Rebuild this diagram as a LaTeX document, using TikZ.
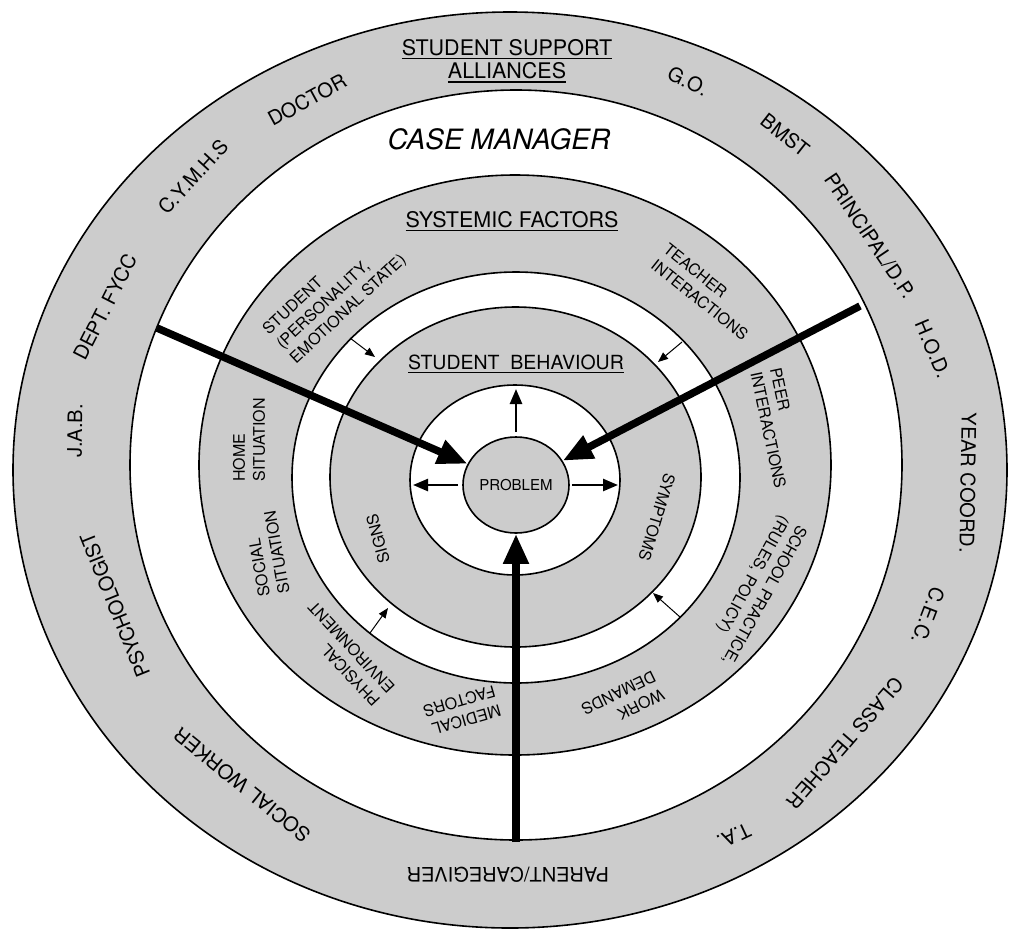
\documentclass[tikz,border=0pt]{standalone}
\usepackage{fontspec}
\setmainfont{TeX Gyre Heros}
\usetikzlibrary{arrows.meta,shapes.geometric}
\definecolor{bandgray}{RGB}{204,204,204}
\newcommand\undl[1]{\leavevmode\sbox0{#1}\rlap{\rule[-4pt]{\wd0}{1.4pt}}\usebox0}

\begin{document}
\begin{tikzpicture}[x=1pt,y=-1pt,
    ring/.style={draw,line width=1.6pt},
    outerlbl/.style={font=\fontsize{20}{24}\selectfont},
    factorlbl/.style={font=\fontsize{16}{20}\selectfont,align=left},
    innerlbl/.style={font=\fontsize{16}{20}\selectfont},
    headlbl/.style={font=\fontsize{21.5}{23.5}\selectfont,align=center},
    bigarrow/.style={line width=7.5pt,-{Triangle[length=30pt,width=24pt]}},
    midarrow/.style={line width=2.5pt,-{Triangle[length=15pt,width=12pt]}},
    smallarrow/.style={line width=1pt,-{Triangle[length=10pt,width=8pt]}}]
    \useasboundingbox (0,0) rectangle (1009,930);
    %% Rings
    \filldraw[ring,fill=bandgray] (510,470) ellipse [x radius=497,y radius=458];
    \filldraw[ring,fill=white] (516,465) ellipse [x radius=386,y radius=375];
    \filldraw[ring,fill=bandgray] (515,465) ellipse [x radius=316,y radius=290];
    \filldraw[ring,fill=white] (516,477.5) ellipse [x radius=224,y radius=205.5];
    \filldraw[ring,fill=bandgray] (515.5,477) ellipse [x radius=185.5,y radius=170];
    \filldraw[ring,fill=white] (515,480) ellipse [x radius=105,y radius=95];
    %% Problem
    \node[ellipse,ring,fill=bandgray,minimum width=106pt,minimum height=96pt,inner sep=0pt,
        font=\fontsize{15}{18}\selectfont] (prob) at (516,485) {PROBLEM};
    %% Headings
    \node[headlbl] (alliances) at (507,61) {\undl{STUDENT SUPPORT}\\\undl{ALLIANCES}};
    \node[font=\fontsize{28}{32}\selectfont\itshape] (casemgr) at (499,139) {CASE MANAGER};
    \node[headlbl] (systemic) at (512,221) {\undl{SYSTEMIC FACTORS}};
    \node[font=\fontsize{19.5}{22}\selectfont] (behaviour) at (516,364) {\undl{STUDENT\ \ BEHAVIOUR}};
    %% Support alliances
    \node[outerlbl,rotate=28.5] (doctor) at (307,100) {DOCTOR};
    \node[outerlbl,rotate=47.5] (cymhs) at (193,177) {C.Y.M.H.S};
    \node[outerlbl,rotate=63] (fycc) at (105,307) {DEPT. FYCC};
    \node[outerlbl,rotate=89] (jab) at (75,431) {J.A.B.};
    \node[outerlbl,rotate=112] (psych) at (115,605) {PSYCHOLOGIST};
    \node[outerlbl,rotate=141] (socwork) at (242,785) {SOCIAL WORKER};
    \node[outerlbl,rotate=180] (parent) at (508,875) {PARENT/CAREGIVER};
    \node[outerlbl,rotate=205] (ta) at (734,836) {T.A.};
    \node[outerlbl,rotate=-131] (classteach) at (845,743) {CLASS TEACHER};
    \node[outerlbl,rotate=-111] (cec) at (928,616) {C.E.C.};
    \node[outerlbl,rotate=-91] (yearco) at (968,483) {YEAR COORD.};
    \node[outerlbl,rotate=-67] (hod) at (933,349) {H.O.D.};
    \node[outerlbl,rotate=-56] (principal) at (870,236) {PRINCIPAL/D.P.};
    \node[outerlbl,rotate=-38] (bmst) at (785,135) {BMST};
    \node[outerlbl,rotate=-26] (go) at (688,81) {G.O.};
    %% Systemic factors
    \node[factorlbl,rotate=43] (studpers) at (335,295) {STUDENT\\(PERSONALITY,\\EMOTIONAL STATE)};
    \node[factorlbl,rotate=-38.6] (teacher) at (706,292) {TEACHER\\INTERACTIONS};
    \node[factorlbl,rotate=-78] (peer) at (778,428) {PEER\\INTERACTIONS};
    \node[factorlbl,rotate=-119] (school) at (755,590) {SCHOOL PRACTICE,\\(RULES, POLICY)};
    \node[factorlbl,rotate=-154] (work) at (623,702) {WORK\\DEMANDS};
    \node[factorlbl,rotate=-164] (medical) at (462,711) {MEDICAL\\FACTORS};
    \node[factorlbl,rotate=133] (physical) at (344,654) {PHYSICAL\\ENVIRONMENT};
    \node[factorlbl,rotate=100] (social) at (267,554) {SOCIAL\\SITUATION};
    \node[factorlbl,rotate=90] (home) at (249,440) {HOME\\SITUATION};
    %% Student behaviour
    \node[innerlbl,rotate=105] (signs) at (378,539) {SIGNS};
    \node[innerlbl,rotate=-107] (symptoms) at (657,517) {SYMPTOMS};
    %% Big arrows
    \coordinate (fyccEnd) at (157,328);
    \coordinate (dpEnd) at (860,306);
    \coordinate (parentEnd) at (516,842);
    \draw[bigarrow] (fyccEnd) -- (prob);
    \draw[bigarrow] (dpEnd) -- (prob);
    \draw[bigarrow] (parentEnd) -- (prob);
    %% Arrows out of the problem
    \coordinate (upTip) at (516,389);
    \coordinate (leftTip) at (413,485);
    \coordinate (rightTip) at (618,485);
    \draw[midarrow,shorten <=4pt] (prob.north) -- (upTip);
    \draw[midarrow,shorten <=4pt] (prob.west) -- (leftTip);
    \draw[midarrow,shorten <=2pt] (prob.east) -- (rightTip);
    %% Small arrows
    \coordinate (ulA) at (350,338); \coordinate (ulB) at (375,357);
    \coordinate (urA) at (682,342); \coordinate (urB) at (658,362);
    \coordinate (lrA) at (680,617); \coordinate (lrB) at (653,593);
    \coordinate (llA) at (370,633); \coordinate (llB) at (388,608);
    \draw[smallarrow] (ulA) -- (ulB);
    \draw[smallarrow] (urA) -- (urB);
    \draw[smallarrow] (lrA) -- (lrB);
    \draw[smallarrow] (llA) -- (llB);
\end{tikzpicture}
\end{document}
